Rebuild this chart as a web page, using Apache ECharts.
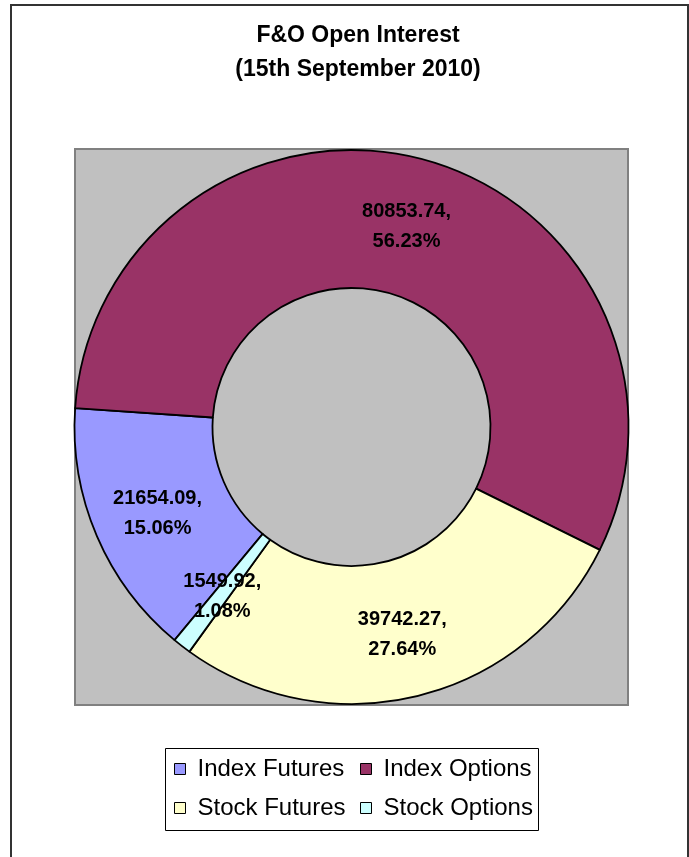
<!DOCTYPE html>
<html>
<head>
<meta charset="utf-8">
<script src="https://cdn.jsdelivr.net/npm/echarts@6/dist/echarts.min.js"></script>
<style>
html,body{margin:0;padding:0;background:#fff;}
#chart{width:689px;height:857px;}
</style>
</head>
<body>
<div id="chart"></div>
<script>
const categories = ['Index Futures', 'Index Options', 'Stock Futures', 'Stock Options'];
const values = [21654.09, 80853.74, 39742.27, 1549.92];
const titleLines = ['F&O Open Interest', '(15th September 2010)'];

const total = values.reduce((a, b) => a + b, 0);
const chart = echarts.init(document.getElementById('chart'), null, {renderer: 'canvas'});
const FONT = '"Liberation Sans", Arial, sans-serif';

const legendCommon = {
  orient: 'vertical',
  top: 757,
  padding: 0,
  itemWidth: 11,
  itemHeight: 11,
  itemGap: 15,
  icon: 'rect',
  selectedMode: false,
  itemStyle: {borderColor: '#000', borderWidth: 1},
  textStyle: {fontFamily: FONT, fontSize: 24, color: '#000', lineHeight: 20, padding: [0, 0, 0, 7]}
};

const option = {
  animation: false,
  color: ['#9999FF', '#993366', '#FFFFCC', '#CCFFFF'],
  title: {
    text: titleLines.join('\n'),
    left: 358,
    textAlign: 'center',
    top: 19,
    padding: 0,
    textStyle: {
      fontFamily: FONT,
      fontSize: 23,
      fontWeight: 'bold',
      color: '#000',
      lineHeight: 34
    }
  },
  graphic: [
    {
      type: 'rect', z: 0,
      shape: {x: 11, y: 5, width: 677, height: 880},
      style: {fill: '#fff', stroke: '#333', lineWidth: 2}
    },
    {
      type: 'rect', z: 1,
      shape: {x: 75, y: 149, width: 553, height: 556},
      style: {fill: '#C0C0C0', stroke: '#808080', lineWidth: 2}
    },
    {
      type: 'rect', z: 1,
      shape: {x: 165.5, y: 748.5, width: 373, height: 82},
      style: {fill: '#fff', stroke: '#000', lineWidth: 1}
    }
  ],
  legend: [
    Object.assign({data: [categories[0], categories[2]], left: 174}, legendCommon),
    Object.assign({data: [categories[1], categories[3]], left: 360}, legendCommon)
  ],
  series: [{
    type: 'pie',
    z: 3,
    center: [351.5, 427],
    radius: [139, 277],
    startAngle: 230.3,
    clockwise: true,
    avoidLabelOverlap: false,
    itemStyle: {borderColor: '#000', borderWidth: 1.8},
    label: {
      show: true,
      position: 'inside',
      formatter: p => p.value.toFixed(2) + ',\n' + (p.value / total * 100).toFixed(2) + '%',
      fontFamily: FONT,
      fontSize: 20,
      fontWeight: 'bold',
      color: '#000',
      textBorderWidth: 0,
      lineHeight: 30,
      offset: [0, 3]
    },
    labelLine: {show: false},
    emphasis: {disabled: true},
    data: categories.map((c, i) => ({name: c, value: values[i]}))
  }]
};
chart.setOption(option);
</script>
</body>
</html>
